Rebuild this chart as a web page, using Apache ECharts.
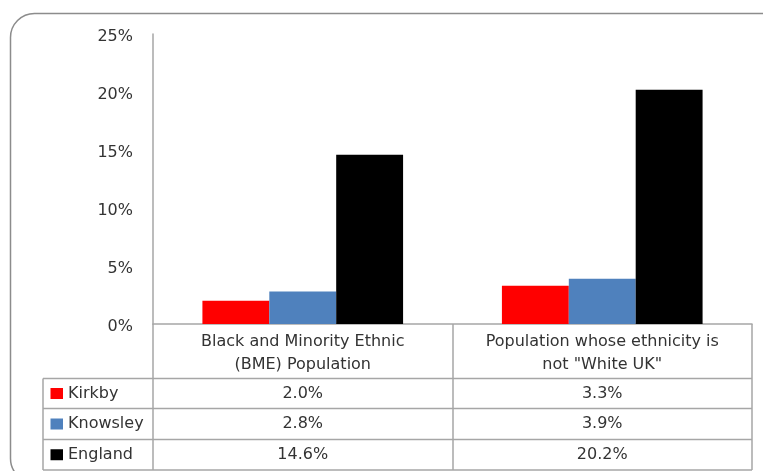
<!DOCTYPE html>
<html>
<head>
<meta charset="utf-8">
<script src="https://cdn.jsdelivr.net/npm/echarts@6/dist/echarts.min.js"></script>
<style>
  html, body { margin: 0; padding: 0; background: #fff; }
  #main { width: 763px; height: 471px; }
</style>
</head>
<body>
<div id="main"></div>
<script>
// data
var categories = ['Black and Minority Ethnic\n(BME) Population', 'Population whose ethnicity is\nnot "White UK"'];
var seriesNames = ['Kirkby', 'Knowsley', 'England'];
var kirkby = [2.0, 3.3];
var knowsley = [2.8, 3.9];
var england = [14.6, 20.2];
var colors = ['#ff0000', '#4f81bd', '#000000'];
var yTicks = [0, 5, 10, 15, 20, 25];

var font = 'DejaVu Sans';
var textColor = '#333333';
var lineColor = '#a6a6a6';

var dom = document.getElementById('main');
var myChart = echarts.init(dom);
var values = [kirkby, knowsley, england];

var option = {
    animation: false,
    textStyle: { fontFamily: font },
    grid: { left: 153, right: 11, top: 34, bottom: 147 },
    xAxis: {
        type: 'category',
        data: categories,
        axisLine: { lineStyle: { color: lineColor, width: 1.5 } },
        axisTick: { show: true, length: 146, interval: 0, lineStyle: { color: lineColor, width: 1.5 } },
        axisLabel: { interval: 0, margin: 6, fontSize: 16, lineHeight: 23, color: textColor, fontFamily: font }
    },
    yAxis: {
        type: 'value',
        min: yTicks[0],
        max: yTicks[yTicks.length - 1],
        interval: 5,
        splitLine: { show: false },
        axisTick: { show: false },
        axisLine: { show: true, lineStyle: { color: lineColor, width: 1.5 } },
        // labels sit a little below their tick in the original
        axisLabel: { formatter: '{value}%', fontSize: 16, margin: 20, verticalAlign: 'top', lineHeight: 6, color: textColor, fontFamily: font }
    },
    series: seriesNames.map(function (name, i) {
        return {
            name: name,
            type: 'bar',
            data: values[i],
            barGap: '0%',
            barCategoryGap: '33%',
            itemStyle: { color: colors[i] }
        };
    })
};
myChart.setOption(option);

// data table under the plot
var tableLeft = 43, plotRight = 752;
var rowLines = [378.5, 408.5, 439.5, 470];
var graphic = [];

// outer rounded border
graphic.push({
    type: 'rect', silent: true,
    shape: { x: 10.5, y: 13.5, width: 780, height: 469, r: 24 },
    style: { fill: 'none', stroke: '#8c8c8c', lineWidth: 1.5 }
});

rowLines.forEach(function (y) {
    graphic.push({
        type: 'line', silent: true,
        shape: { x1: tableLeft, y1: y, x2: plotRight, y2: y },
        style: { stroke: lineColor, lineWidth: 1.5 }
    });
});
graphic.push({
    type: 'line', silent: true,
    shape: { x1: tableLeft, y1: rowLines[0], x2: tableLeft, y2: rowLines[rowLines.length - 1] },
    style: { stroke: lineColor, lineWidth: 1.5 }
});

seriesNames.forEach(function (name, i) {
    var yc = (rowLines[i] + rowLines[i + 1]) / 2;
    graphic.push({
        type: 'rect', silent: true,
        shape: { x: 50.5, y: yc - 5.5, width: 12.5, height: 11 },
        style: { fill: colors[i] }
    });
    graphic.push({
        type: 'text', silent: true,
        x: 68, y: yc,
        style: { text: name, fontFamily: font, fontSize: 16, fill: textColor, verticalAlign: 'middle', align: 'left' }
    });
    categories.forEach(function (cat, j) {
        var xc = myChart.convertToPixel({ xAxisIndex: 0 }, j);
        graphic.push({
            type: 'text', silent: true,
            x: xc, y: yc,
            style: { text: values[i][j].toFixed(1) + '%', fontFamily: font, fontSize: 16, fill: textColor, verticalAlign: 'middle', align: 'center' }
        });
    });
});

myChart.setOption({ graphic: graphic });
</script>
</body>
</html>
